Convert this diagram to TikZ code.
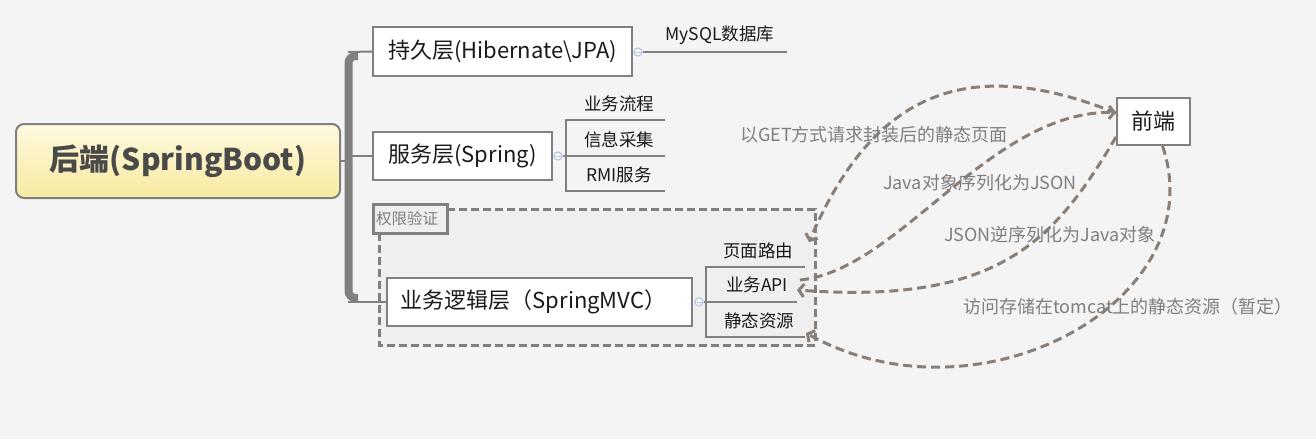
\documentclass[tikz,border=0pt]{standalone}
\usepackage{fontspec}
\setmainfont{Noto Sans CJK SC}
\usetikzlibrary{arrows.meta,calc}
\definecolor{bg}{HTML}{F4F4F4}
\definecolor{ln}{HTML}{808080}
\definecolor{rel}{HTML}{8A7F77}
\definecolor{reltext}{HTML}{7F7F7F}
\definecolor{grp}{HTML}{EFEFEF}
\definecolor{rtop}{HTML}{FEFAE0}
\definecolor{rbot}{HTML}{F8EAA0}
\definecolor{tx}{HTML}{1A1A1A}
\definecolor{roottx}{HTML}{4A4A4A}
\definecolor{mini}{HTML}{AEBFE0}
\begin{document}
\begin{tikzpicture}[x=1pt,y=-1pt,
  box/.style={draw=ln, line width=2pt, fill=white, inner sep=0pt, text=tx, font=\fontsize{22}{26}\selectfont},
  leaf/.style={inner sep=0pt, text=tx, font=\fontsize{17.5}{21}\selectfont},
  rellabel/.style={inner sep=0pt, text=reltext, font=\fontsize{18}{21}\selectfont},
  conn/.style={draw=ln, line width=2pt},
  minic/.style={circle, draw=mini, fill=white, line width=1pt, minimum size=8pt, inner sep=0pt},
  relline/.style={draw=rel, line width=3pt, dash pattern=on 9pt off 5pt},
  reltip/.style={-{Straight Barb[length=5pt,width=13pt]}}
]
% background
\fill[bg] (0,0) rectangle (1316,439);

% group (权限验证)
\draw[ln, line width=3pt, dash pattern=on 8pt off 4pt, fill=grp] (379,209) rectangle (815,345);
\node[draw=ln, line width=3pt, fill=grp, minimum width=74pt, minimum height=29pt, inner sep=0pt,
      text=reltext, font=\fontsize{15.5}{18}\selectfont] (auth) at (410,218.5) {\hspace*{-6pt}权限验证};

% root
\node[draw=ln, line width=2pt, rounded corners=8pt, top color=rtop, bottom color=rbot,
      minimum width=324pt, minimum height=74pt, inner sep=0pt, text=roottx,
      font=\fontsize{30}{36}\selectfont\bfseries] (root) at (178,161) {后端(SpringBoot)};

% main bracket
\draw[ln, line width=8pt, rounded corners=7pt] (358,56) -- (348.5,56) -- (348.5,298) -- (358,298);
\coordinate (bt) at (348,52);
\coordinate (bm) at (348,156);
\coordinate (bb) at (348,302);
\draw[conn] (root.east) -- (348,161);

% level-1 boxes
\node[box, minimum width=259pt, minimum height=49pt] (persist) at (502.5,51.5) {持久层(Hibernate\textbackslash JPA)};
\node[box, minimum width=179pt, minimum height=48pt] (service) at (462.5,156) {服务层(Spring)};
\node[box, minimum width=305pt, minimum height=48pt] (mvc) at (539.5,302) {\hspace*{-12pt}业务逻辑层（SpringMVC）};

\draw[conn] (bt) -- (persist.west);
\draw[conn] (bm) -- (service.west);
\draw[conn] (bb) -- (mvc.west);

% persist child
\node[minic] (c1) at (638,52) {};
\draw[mini, line width=1pt] ($(c1)+(-2.5,0)$) -- ($(c1)+(2.5,0)$);
\coordinate (mysqlend) at (787,52);
\draw[conn] (c1.east) -- (mysqlend);
\node[leaf] (mysql) at (720,35) {MySQL数据库};

% service children
\node[minic] (c2) at (558,156) {};
\draw[mini, line width=1pt] ($(c2)+(-2.5,0)$) -- ($(c2)+(2.5,0)$);
\coordinate (s1) at (665,120);
\coordinate (s2) at (665,156);
\coordinate (s3) at (665,191);
\draw[conn] (s1) -- (566,120) -- (566,191) -- (s3);
\draw[conn] (c2.east) -- (s2);
\node[leaf] (flow) at (619,104) {业务流程};
\node[leaf] (collect) at (619,140) {信息采集};
\node[leaf] (rmi) at (619,175) {RMI服务};

% mvc children
\node[minic] (c3) at (699,302) {};
\draw[mini, line width=1pt] ($(c3)+(-2.5,0)$) -- ($(c3)+(2.5,0)$);
\coordinate (m1) at (805,267);
\coordinate (m2) at (797,302);
\coordinate (m3) at (805,337);
\draw[conn] (m1) -- (706,267) -- (706,337) -- (m3);
\draw[conn] (c3.east) -- (m2);
\node[leaf] (route) at (758,251) {页面路由};
\node[leaf] (api) at (757,285) {业务API};
\node[leaf] (static) at (759,321) {静态资源};

% front end
\node[box, minimum width=73pt, minimum height=47pt] (front) at (1153.5,121.5) {前端};

% relation lines
\coordinate (routeIn) at (809,242);
\coordinate (apiOut) at (800,280);
\coordinate (apiIn) at (797,290);
\coordinate (staticIn) at (806,333);
\draw[relline, reltip] ($(front.west)+(0,-8.5)$) .. controls (960,50) and (870,100) .. (routeIn);
\draw[relline, reltip] (apiOut) .. controls (900,270) and (990,110) .. ($(front.west)+(0,-9)$);
\draw[relline, reltip] ($(front.west)+(0,15.5)$) .. controls (1055,240) and (1000,305) .. (apiIn);
\draw[relline, reltip] ($(front.south)+(9,0)$) .. controls (1215,300) and (980,430) .. (staticIn);

% relation labels
\node[rellabel] (l1) at (874,135) {以GET方式请求封装后的静态页面};
\node[rellabel] (l2) at (980,183) {Java对象序列化为JSON};
\node[rellabel] (l3) at (1050,235) {JSON逆序列化为Java对象};
\node[rellabel] (l4) at (1128,307) {访问存储在tomcat上的静态资源（暂定）};
\end{tikzpicture}
\end{document}
